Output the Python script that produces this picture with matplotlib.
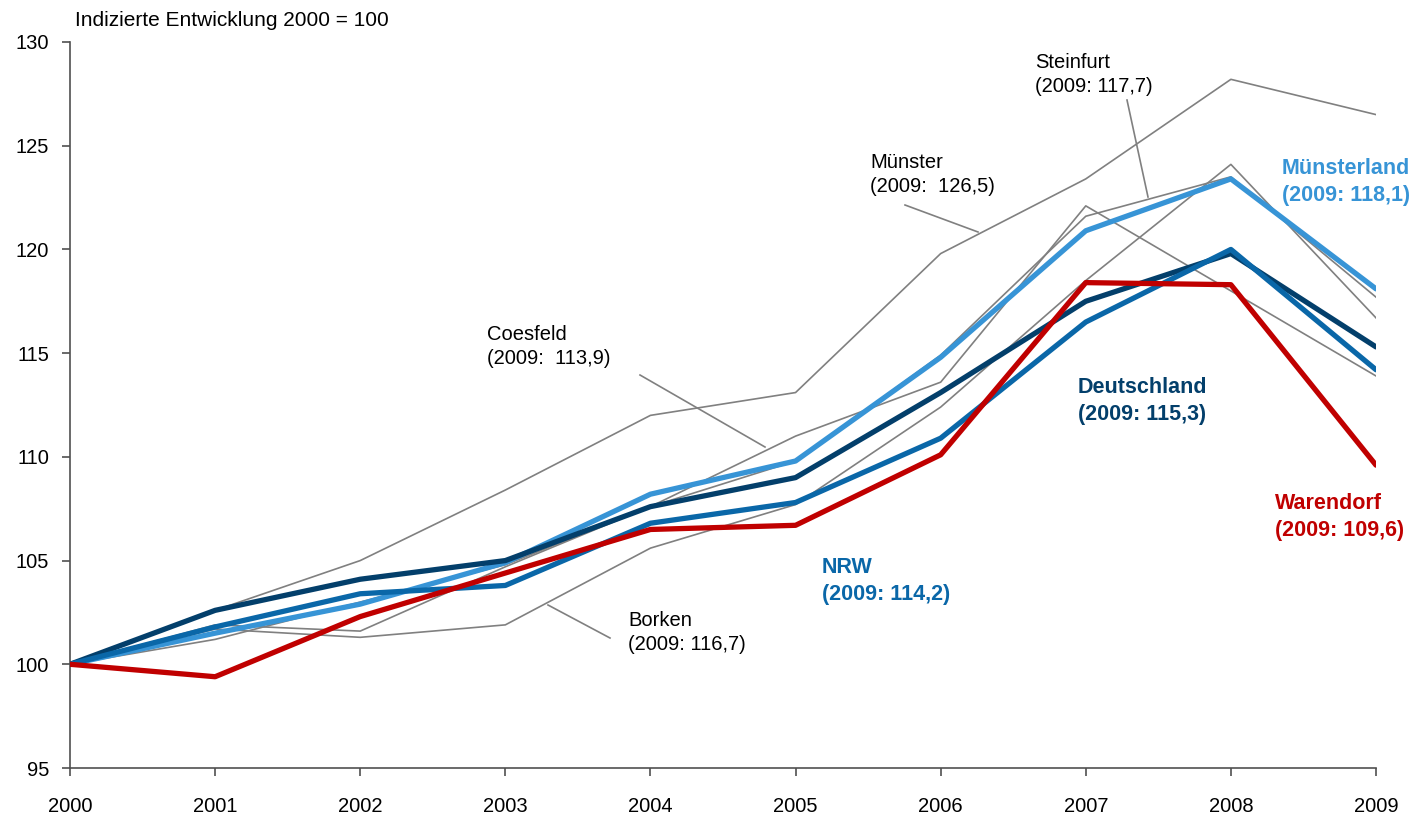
import matplotlib
matplotlib.use("Agg")
import matplotlib.pyplot as plt

plt.rcParams['font.family'] = ['Liberation Sans', 'DejaVu Sans']

years = [2000, 2001, 2002, 2003, 2004, 2005, 2006, 2007, 2008, 2009]

muenster   = [100, 102.6, 105.0, 108.4, 112.0, 113.1, 119.8, 123.4, 128.2, 126.5]
steinfurt  = [100, 101.2, 103.0, 104.8, 107.6, 109.8, 114.9, 121.6, 123.5, 117.7]
coesfeld   = [100, 101.9, 101.6, 104.7, 107.6, 111.0, 113.6, 122.1, 118.0, 113.9]
borken     = [100, 101.7, 101.3, 101.9, 105.6, 107.7, 112.4, 118.5, 124.1, 116.7]

muensterland = [100, 101.5, 102.9, 104.9, 108.2, 109.8, 114.8, 120.9, 123.4, 118.1]
deutschland  = [100, 102.6, 104.1, 105.0, 107.6, 109.0, 113.1, 117.5, 119.8, 115.3]
nrw          = [100, 101.8, 103.4, 103.8, 106.8, 107.8, 110.9, 116.5, 120.0, 114.2]
warendorf    = [100, 99.4, 102.3, 104.4, 106.5, 106.7, 110.1, 118.4, 118.3, 109.6]

yticks = [95, 100, 105, 110, 115, 120, 125, 130]

GRAY = '#808080'
LBLUE = '#3794d6'
NAVY = '#033f6b'
MBLUE = '#0a67a8'
RED = '#c00000'

W, H = 1416, 818
fig = plt.figure(figsize=(W / 100, H / 100), dpi=100)
ax = fig.add_axes([70 / W, (H - 768) / H, (1376 - 70) / W, (768 - 42) / H])

for s in (muenster, steinfurt, coesfeld, borken):
    ax.plot(years, s, color=GRAY, lw=1.2, zorder=2)

ax.plot(years, muensterland, color=LBLUE, lw=3.8, solid_capstyle='round', zorder=3)
ax.plot(years, deutschland, color=NAVY, lw=3.8, solid_capstyle='round', zorder=3)
ax.plot(years, nrw, color=MBLUE, lw=3.8, solid_capstyle='round', zorder=3)
ax.plot(years, warendorf, color=RED, lw=3.8, solid_capstyle='round', zorder=4)

ax.set_xlim(2000, 2009)
ax.set_ylim(95, 130)
ax.set_yticks(yticks)
ax.set_xticks(years)
ax.tick_params(axis='both', labelsize=14.5, direction='out', length=6, width=1.2,
               color='#505050')
ax.tick_params(axis='y', pad=9)
ax.tick_params(axis='x', pad=15)
for side in ('top', 'right'):
    ax.spines[side].set_visible(False)
for side in ('left', 'bottom'):
    ax.spines[side].set_color('#505050')
    ax.spines[side].set_linewidth(1.2)


def px(x, y):
    """pixel position in the 1416x818 image -> data coordinates"""
    return (2000 + (x - 70) / (1376 - 70) * 9,
            95 + (768 - y) / (768 - 42) * 35)


fig.text(75 / W, 1 - 20 / H, 'Indizierte Entwicklung 2000 = 100', fontsize=15,
         ha='left', va='center')

labels = [
    ('Münster\n(2009:  126,5)', 870, 153, 'black', 'normal', 14.5),
    ('Steinfurt\n(2009: 117,7)', 1035, 53, 'black', 'normal', 14.5),
    ('Coesfeld\n(2009:  113,9)', 487, 325, 'black', 'normal', 14.5),
    ('Borken\n(2009: 116,7)', 628, 611, 'black', 'normal', 14.5),
    ('Münsterland\n(2009: 118,1)', 1282, 158, LBLUE, 'bold', 15.5),
    ('Deutschland\n(2009: 115,3)', 1078, 377, NAVY, 'bold', 15.5),
    ('NRW\n(2009: 114,2)', 822, 557, MBLUE, 'bold', 15.5),
    ('Warendorf\n(2009: 109,6)', 1275, 493, RED, 'bold', 15.5),
]
for s, x, y, c, w, fs in labels:
    ax.text(*px(x, y), s, color=c, fontweight=w, fontsize=fs, linespacing=1.35,
            va='top', ha='left', clip_on=False)

# leader lines
for (x0, y0, x1, y1) in [(905, 205, 978, 232),
                         (1127, 100, 1148, 197),
                         (640, 375, 765, 447),
                         (548, 605, 610, 638)]:
    a, b = px(x0, y0)
    c, d = px(x1, y1)
    ax.plot([a, c], [b, d], color=GRAY, lw=1.2, zorder=2)

fig.savefig('out.png', dpi=100)
